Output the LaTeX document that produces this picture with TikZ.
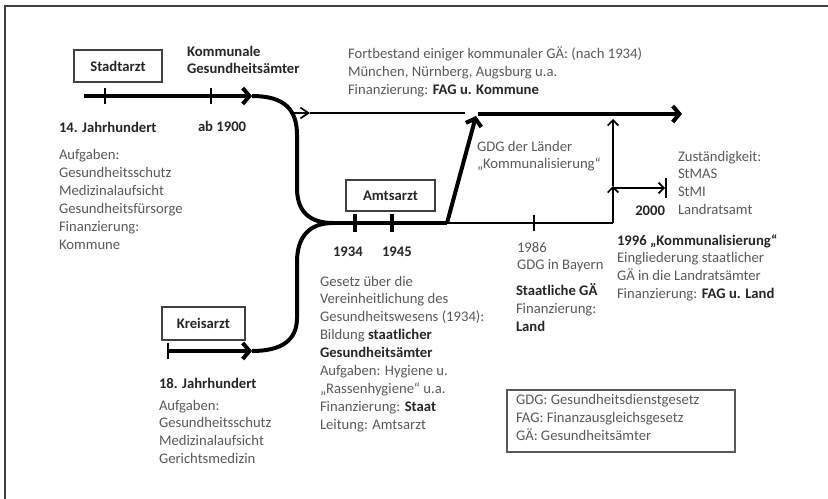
\documentclass[tikz,border=0pt]{standalone}
\usepackage{fontspec}
\setmainfont{Carlito}
\usetikzlibrary{arrows.meta}
\definecolor{txt}{HTML}{595959}
\definecolor{bld}{HTML}{262626}
\definecolor{frm}{HTML}{404040}
\begin{document}
\begin{tikzpicture}[x=0.75pt,y=-0.75pt,
  every node/.style={inner sep=0pt,outer sep=0pt},
  lbl/.style={anchor=base west,align=left,font=\fontsize{11}{13.4}\selectfont,text=txt},
  blbl/.style={lbl,font=\fontsize{11}{13.4}\selectfont\bfseries,text=bld},
  boxed/.style={draw=frm,line width=1pt,font=\fontsize{11}{13.4}\selectfont\bfseries,text=bld,anchor=north west},
  thickl/.style={line width=3pt,black},
  thinl/.style={line width=1.3pt,black},
  tickm/.style={line width=2.2pt,black},
  bigtip/.style={-{Straight Barb[length=5pt,width=12pt]}},
  smalltip/.style={-{Straight Barb[length=4pt,width=8pt]}},
  longtip/.style={-{Straight Barb[length=6pt,width=8pt]}}
]
\useasboundingbox (0,0) rectangle (828,499);
% frame
\draw[line width=1.1pt,frm] (5,499) -- (5,6) -- (828,6);

% boxes
\node[boxed,minimum width=88*0.75pt,minimum height=32*0.75pt] (stadt) at (74,50) {Stadtarzt};
\node[boxed,minimum width=89*0.75pt,minimum height=31*0.75pt] (amts) at (346,180) {Amtsarzt};
\node[boxed,minimum width=83*0.75pt,minimum height=33*0.75pt] (kreis) at (162,307) {Kreisarzt};
\node[draw=txt,line width=0.9pt,anchor=north west,minimum width=228*0.75pt,minimum height=62*0.75pt] (legend) at (507,390) {};

% coordinates
\coordinate (s0) at (84,96);
\coordinate (s1) at (252,96);
\coordinate (t1) at (105,96);
\coordinate (t2) at (211,96);
\coordinate (m0) at (333,223);
\coordinate (m1) at (447,223);
\coordinate (d1) at (476,116);
\coordinate (h0) at (478,114);
\coordinate (h1) at (682,114);
\coordinate (a0) at (294,113);
\coordinate (a1) at (310,113);
\coordinate (a2) at (465,113);
\coordinate (v0) at (613,223);
\coordinate (vm) at (613,186);
\coordinate (v1) at (613,119);
\coordinate (r1) at (665,188);
\coordinate (k0) at (168,351);
\coordinate (k1) at (252,351);
\coordinate (tk1) at (355,223);
\coordinate (tk2) at (392,223);
\coordinate (tk3) at (534,223);

% Stadtarzt line
\draw[thickl,bigtip] (s0) -- (s1);
\draw[tickm] ([yshift=8*0.75pt]t1) -- ([yshift=-8*0.75pt]t1);
\draw[tickm] ([yshift=8*0.75pt]t2) -- ([yshift=-8*0.75pt]t2);
% upper curve
\draw[thickl] (s1) .. controls (285,96) and (297,110) .. (297,135) -- (297,188) .. controls (297,212) and (310,223) .. (m0);
% lower curve
\draw[thickl] (m0) .. controls (310,223) and (297,236) .. (297,262) -- (297,318) .. controls (297,340) and (282,351) .. (k1);
% Kreisarzt arrow
\draw[thickl,bigtip] (k0) -- (k1);
\draw[tickm] (168,343) -- (168,359);
% main line
\draw[thickl] (m0) -- (m1);
\draw[thickl,bigtip] (m1) -- (d1);
\draw[thickl,bigtip] (h0) -- (h1);
\draw[line width=3pt] ([yshift=9*0.75pt]tk1) -- ([yshift=-9*0.75pt]tk1);
\draw[line width=3pt] ([yshift=9*0.75pt]tk2) -- ([yshift=-9*0.75pt]tk2);
% thin lines
\draw[thinl,longtip] (a0) -- (a1);
\draw[thinl] (a1) -- (a2);
\draw[thinl] (m1) -- (v0);
\draw[thinl] ([yshift=8*0.75pt]tk3) -- ([yshift=-8*0.75pt]tk3);
\draw[thinl,smalltip] (v0) -- (vm);
\draw[thinl,smalltip] (vm) -- (v1);
\draw[thinl,smalltip] (613,188) -- (r1);
\draw[thinl] (666,178) -- (666,198);

% texts (base anchor = baseline of last line)
\node[blbl] (komm) at (187,74) {Kommunale\\Gesundheitsämter};
\node[blbl] (j14) at (59,133) {14. Jahrhundert};
\node[blbl] (ab1900) at (198,132) {ab 1900};
\node[lbl] (aufg1) at (59,249.3) {Aufgaben:\\Gesundheitsschutz\\Medizinalaufsicht\\Gesundheitsfürsorge\\Finanzierung:\\Kommune};
\node[lbl] (fort) at (348,94.7) {Fortbestand einiger kommunaler GÄ: (nach 1934)\\München, Nürnberg, Augsburg u.a.\\Finanzierung: \textbf{\color{bld}FAG u. Kommune}};
\node[lbl] (gdgl) at (477,168.9) {GDG der Länder\\„Kommunalisierung“};
\node[lbl] (zust) at (678,214.6) {Zuständigkeit:\\StMAS\\StMI\\Landratsamt};
\node[blbl,anchor=base east] (y2000) at (665,215) {2000};
\node[blbl] (y1934) at (333,256) {1934};
\node[blbl] (y1945) at (382,256) {1945};
\node[lbl] (gesetz) at (320,429) {Gesetz über die\\Vereinheitlichung des\\Gesundheitswesens (1934):\\Bildung \textbf{\color{bld}staatlicher}\\\textbf{\color{bld}Gesundheitsämter}\\Aufgaben: Hygiene u.\\„Rassenhygiene“ u.a.\\Finanzierung: \textbf{\color{bld}Staat}\\Leitung: Amtsarzt};
\node[lbl] (y1986) at (517,269.9) {1986\\GDG in Bayern};
\node[lbl] (stgae) at (516,331.7) {\textbf{\color{bld}Staatliche GÄ}\\Finanzierung:\\\textbf{\color{bld}Land}};
\node[lbl] (y1996) at (617,298.6) {\textbf{\color{bld}1996 „Kommunalisierung“}\\Eingliederung staatlicher\\GÄ in die Landratsämter\\Finanzierung: \textbf{\color{bld}FAG u. Land}};
\node[blbl] (j18) at (159,388) {18. Jahrhundert};
\node[lbl] (aufg2) at (159,463.6) {Aufgaben:\\Gesundheitsschutz\\Medizinalaufsicht\\Gerichtsmedizin};
\node[lbl] (legtext) at (516,440.7) {GDG: Gesundheitsdienstgesetz\\FAG: Finanzausgleichsgesetz\\GÄ: Gesundheitsämter};
\end{tikzpicture}
\end{document}
